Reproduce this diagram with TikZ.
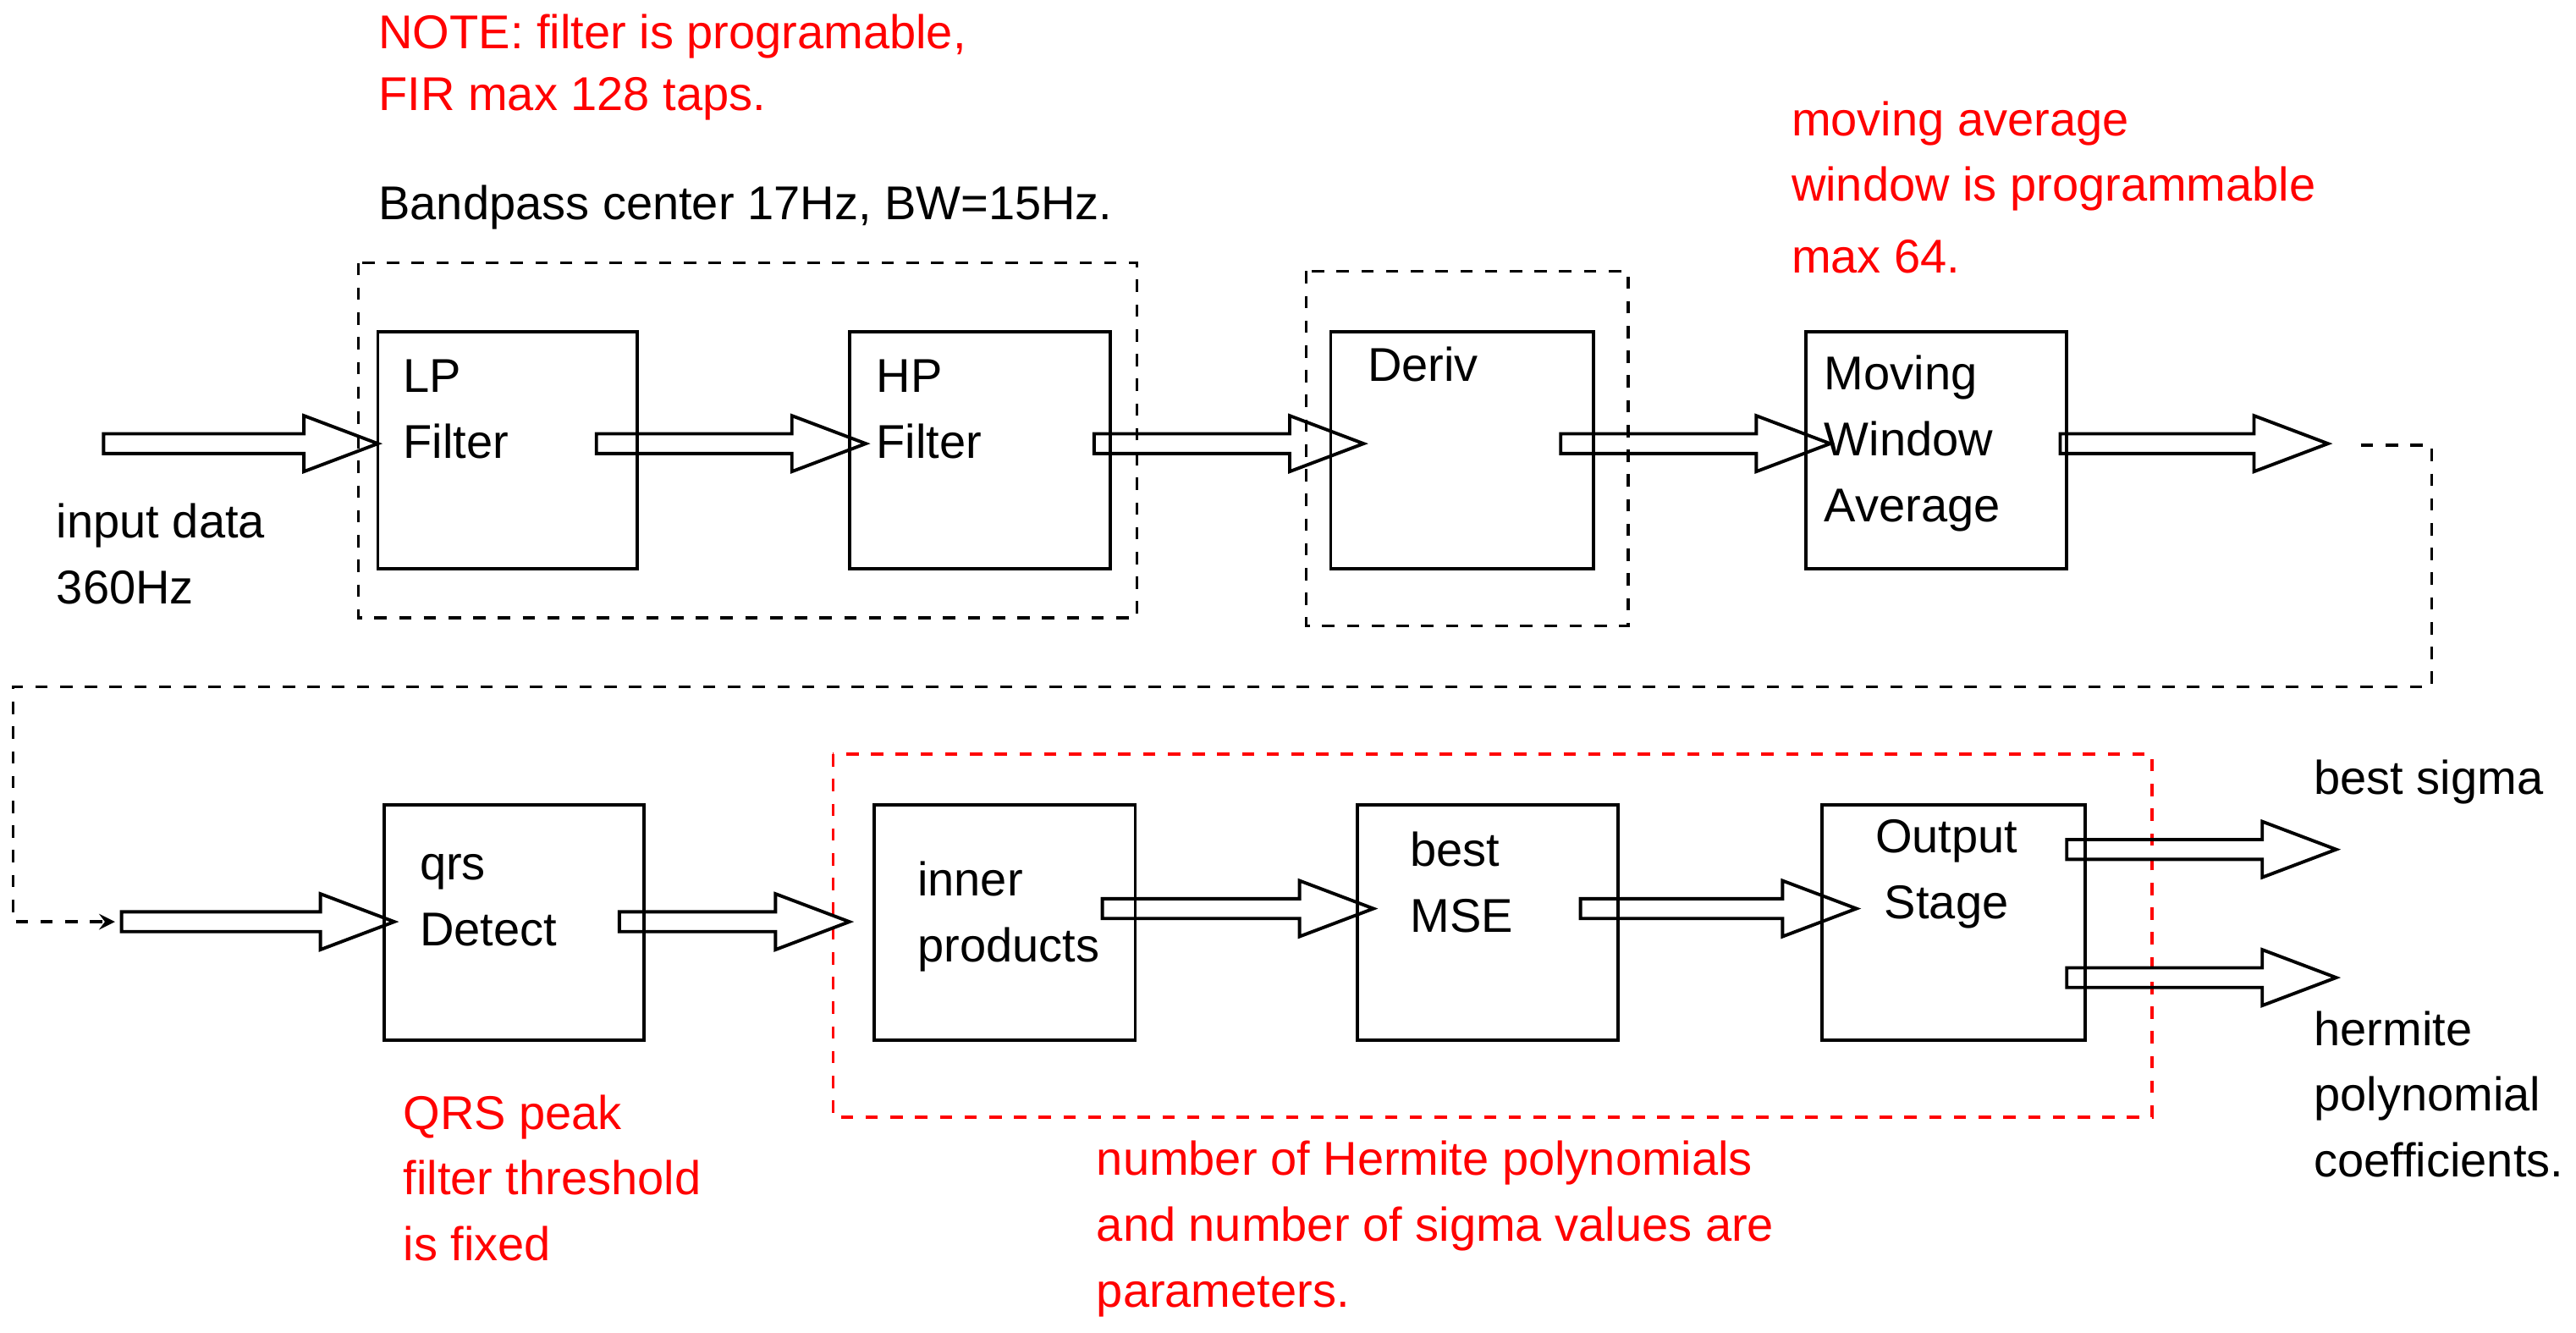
\documentclass[tikz,border=0pt]{standalone}
\usepackage{fontspec}
\setmainfont{Liberation Sans}
\usetikzlibrary{positioning}
\tikzset{
  blk/.style={draw, line width=0.8pt},
  grp/.style={draw, dashed, line width=0.7pt},
  txt/.style={anchor=west, inner sep=0pt, font=\fontsize{11.5}{16}\selectfont, align=left},
  note/.style={txt, text=red},
}
% hollow block arrow: start x, end x, y
\newcommand{\bigarrow}[3]{%
  \draw[line width=0.8pt] (#1,#3-6) -- (#2-45,#3-6) -- (#2-45,#3-17) -- (#2,#3)
    -- (#2-45,#3+17) -- (#2-45,#3+6) -- (#1,#3+6) -- cycle;}
\begin{document}
\begin{tikzpicture}[x=0.014cm, y=-0.014cm, >=stealth]
    \useasboundingbox (0,0) rectangle (1568,811);

    % First row blocks
    \draw[blk] (230,202) rectangle (388,346);
    \draw[blk] (517,202) rectangle (676,346);
    \draw[blk] (810,202) rectangle (970,346);
    \draw[blk] (1099,202) rectangle (1258,346);
    \draw[grp] (218,160) rectangle (692,376);
    \draw[grp] (795,165) rectangle (991,381);

    \bigarrow{63}{230}{270}
    \bigarrow{363}{527}{270}
    \bigarrow{666}{830}{270}
    \bigarrow{950}{1114}{270}
    \bigarrow{1254}{1417}{270}

    % Link between rows
    \draw[dashed, line width=0.7pt, ->] (1437,271) -- (1480,271) -- (1480,418) -- (8,418) -- (8,561) -- (70,561);

    % Second row blocks
    \draw[blk] (234,490) rectangle (392,633);
    \draw[blk] (532,490) rectangle (691,633);
    \draw[blk] (826,490) rectangle (985,633);
    \draw[blk] (1109,490) rectangle (1269,633);
    \draw[grp, red] (507,459) rectangle (1310,680);

    \bigarrow{74}{240}{561}
    \bigarrow{377}{517}{561}
    \bigarrow{671}{836}{553}
    \bigarrow{962}{1130}{553}
    \bigarrow{1258}{1422}{517}
    \bigarrow{1258}{1422}{595}

    % Labels
    \node[note] (note1) at (230,22) {NOTE: filter is programable,};
    \node[note] (note2) at (230,60) {FIR max 128 taps.};
    \node[txt] (band) at (230,126) {Bandpass center 17Hz, BW=15Hz.};
    \node[note] (mav) at (1090,75) {moving average};
    \node[note] (mav2) at (1090,115) {window is programmable};
    \node[note] (mav3) at (1090,156) {max 64.};
    \node[txt] (lp) at (245,249) {LP\\Filter};
    \node[txt] (hp) at (533,249) {HP\\Filter};
    \node[txt] (deriv) at (832,222) {Deriv};
    \node[txt] (mov) at (1110,270) {Moving\\Window\\Average};
    \node[txt] (inp) at (34,337) {input data\\360Hz};
    \node[txt] (qrs) at (255,548) {qrs\\Detect};
    \node[txt] (inner) at (558,558) {inner\\products};
    \node[txt] (best) at (858,537) {best\\MSE};
    \node[txt, align=center] (out) at (1141,532) {Output\\Stage};
    \node[txt] (sig) at (1408,476) {best sigma};
    \node[txt] (herm) at (1408,666) {hermite\\polynomial\\coefficients.};
    \node[note] (qnote) at (245,717) {QRS peak\\filter threshold\\is fixed};
    \node[note] (hnote) at (667,748) {number of Hermite polynomials\\and number of sigma values are\\parameters.};
\end{tikzpicture}
\end{document}
